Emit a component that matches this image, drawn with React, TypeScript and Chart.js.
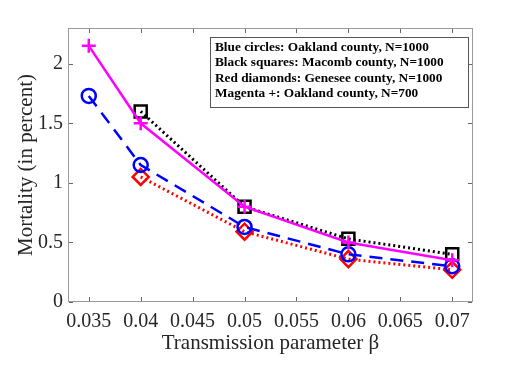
import React, { useEffect, useRef } from 'react';
import { Chart, registerables } from 'chart.js';

Chart.register(...registerables);

const betas = [0.035, 0.04, 0.05, 0.06, 0.07];
const blueOakland1000 = [1.73, 1.15, 0.63, 0.4, 0.3];
const blackMacomb1000 = [null, 1.6, 0.8, 0.53, 0.4];
const redGenesee1000 = [null, 1.05, 0.59, 0.36, 0.27];
const magentaOakland700 = [2.15, 1.5, 0.8, 0.5, 0.35];

const xTicks = [0.035, 0.04, 0.045, 0.05, 0.055, 0.06, 0.065, 0.07];
const xTickLabels = ['0.035', '0.04', '0.045', '0.05', '0.055', '0.06', '0.065', '0.07'];
const yTicks = [0, 0.5, 1, 1.5, 2];
const yTickLabels = ['0', '0.5', '1', '1.5', '2'];

const legendLines = [
  'Blue circles: Oakland county, N=1000',
  'Black squares: Macomb county, N=1000',
  'Red diamonds: Genesee county, N=1000',
  'Magenta +: Oakland county, N=700',
];

const xTitle = 'Transmission parameter β';
const yTitle = 'Mortality (in percent)';

const SERIF = '"Liberation Serif", "DejaVu Serif", serif';
const AXIS_COLOR = '#262626';

const toXY = (arr: (number | null)[]) =>
  betas
    .map((x, i) => ({ x, y: arr[i] }))
    .filter((p) => p.y !== null) as { x: number; y: number }[];

const framePlugin = {
  id: 'matlabFrame',
  afterDatasetsDraw(chart: any) {
    const { ctx, chartArea: a, scales } = chart;
    ctx.save();
    ctx.strokeStyle = '#9a9a9a';
    ctx.lineWidth = 1;
    ctx.strokeRect(a.left + 0.5, a.top + 0.5, a.right - a.left - 1, a.bottom - a.top - 1);
    const tl = 4;
    ctx.strokeStyle = '#666666';
    ctx.beginPath();
    xTicks.forEach((v) => {
      const px = Math.round(scales.x.getPixelForValue(v)) + 0.5;
      ctx.moveTo(px, a.bottom - 1);
      ctx.lineTo(px, a.bottom - 1 - tl);
      ctx.moveTo(px, a.top + 1);
      ctx.lineTo(px, a.top + 1 + tl);
    });
    yTicks.forEach((v) => {
      const py = Math.round(scales.y.getPixelForValue(v)) + 0.5;
      ctx.moveTo(a.left + 1, py);
      ctx.lineTo(a.left + 1 + tl, py);
      ctx.moveTo(a.right - 1, py);
      ctx.lineTo(a.right - 1 - tl, py);
    });
    ctx.stroke();
    ctx.restore();
  },
};

const textBoxPlugin = {
  id: 'textBoxLegend',
  afterDraw(chart: any) {
    const { ctx, chartArea: a } = chart;
    ctx.save();
    ctx.font = `bold 13.3px ${SERIF}`;
    const maxW = Math.max(...legendLines.map((l) => ctx.measureText(l).width));
    const boxW = Math.round(maxW + 29);
    const boxH = 70;
    const right = Math.round(a.right - 5);
    const top = Math.round(a.top + 9);
    const left = right - boxW;
    ctx.fillStyle = '#ffffff';
    ctx.fillRect(left, top, boxW, boxH);
    ctx.strokeStyle = '#555555';
    ctx.lineWidth = 1;
    ctx.strokeRect(left + 0.5, top + 0.5, boxW, boxH);
    ctx.fillStyle = '#000000';
    ctx.textBaseline = 'middle';
    ctx.textAlign = 'left';
    legendLines.forEach((line, i) => {
      ctx.fillText(line, left + 5, top + 10.5 + i * 15.4);
    });
    ctx.restore();
  },
};

export default function App() {
  const canvasRef = useRef<HTMLCanvasElement | null>(null);

  useEffect(() => {
    const canvas = canvasRef.current;
    if (!canvas) return;
    const chart = new Chart(canvas, {
      type: 'line',
      data: {
        datasets: [
          {
            label: legendLines[3],
            data: toXY(magentaOakland700),
            borderColor: '#ff00ff',
            backgroundColor: 'transparent',
            borderWidth: 2.5,
            pointStyle: 'cross',
            pointRadius: 7,
            pointBorderWidth: 2.5,
            pointBorderColor: '#ff00ff',
            order: 0,
          },
          {
            label: legendLines[0],
            data: toXY(blueOakland1000),
            borderColor: '#0000ff',
            backgroundColor: 'transparent',
            borderWidth: 2.5,
            borderDash: [13, 8],
            pointStyle: 'circle',
            pointRadius: 7,
            pointBorderWidth: 2.5,
            pointBorderColor: '#0000ff',
            pointBackgroundColor: 'transparent',
            order: 1,
          },
          {
            label: legendLines[2],
            data: toXY(redGenesee1000),
            borderColor: '#ff0000',
            backgroundColor: 'transparent',
            borderWidth: 3,
            borderDash: [2, 3],
            pointStyle: 'rectRot',
            pointRadius: 8,
            pointBorderWidth: 2.5,
            pointBorderColor: '#ff0000',
            pointBackgroundColor: 'transparent',
            order: 2,
          },
          {
            label: legendLines[1],
            data: toXY(blackMacomb1000),
            borderColor: '#000000',
            backgroundColor: 'transparent',
            borderWidth: 3,
            borderDash: [2, 3],
            pointStyle: 'rect',
            pointRadius: 8.5,
            pointBorderWidth: 2.5,
            pointBorderColor: '#000000',
            pointBackgroundColor: 'transparent',
            order: 3,
          },
        ],
      },
      options: {
        animation: false,
        responsive: false,
        maintainAspectRatio: false,
        layout: { padding: { top: 28, right: 53, left: 0, bottom: 0 } },
        elements: { line: { tension: 0 } },
        plugins: {
          legend: { display: false },
          tooltip: { enabled: false },
        },
        scales: {
          x: {
            type: 'linear',
            min: 0.033,
            max: 0.072,
            grid: { display: false, drawTicks: false, tickLength: 0 },
            border: { display: false },
            afterBuildTicks: (s: any) => {
              s.ticks = xTicks.map((v) => ({ value: v }));
            },
            afterFit: (s: any) => {
              s.height = 76;
            },
            ticks: {
              autoSkip: false,
              maxRotation: 0,
              padding: 8,
              color: AXIS_COLOR,
              font: { family: SERIF, size: 20 },
              callback: (v: any) => {
                const i = xTicks.findIndex((t) => Math.abs(t - Number(v)) < 1e-9);
                return i >= 0 ? xTickLabels[i] : '';
              },
            },
            title: {
              display: true,
              text: xTitle,
              color: AXIS_COLOR,
              font: { family: SERIF, size: 21 },
              padding: { top: 0, bottom: 22 },
            },
          },
          y: {
            type: 'linear',
            min: 0,
            max: 2.3,
            grid: { display: false, drawTicks: false, tickLength: 0 },
            border: { display: false },
            afterBuildTicks: (s: any) => {
              s.ticks = yTicks.map((v) => ({ value: v }));
            },
            afterFit: (s: any) => {
              s.width = 68;
            },
            ticks: {
              autoSkip: false,
              padding: 5,
              color: AXIS_COLOR,
              font: { family: SERIF, size: 20 },
              callback: (v: any) => {
                const i = yTicks.findIndex((t) => Math.abs(t - Number(v)) < 1e-9);
                return i >= 0 ? yTickLabels[i] : '';
              },
            },
            title: {
              display: true,
              text: yTitle,
              color: AXIS_COLOR,
              font: { family: SERIF, size: 21 },
              padding: { top: 14, bottom: 0 },
            },
          },
        },
      },
      plugins: [framePlugin, textBoxPlugin],
    } as any);
    return () => chart.destroy();
  }, []);

  return (
    <div style={{ position: 'fixed', left: 0, top: 0, width: 526, height: 378, background: '#fff' }}>
      <canvas ref={canvasRef} width={526} height={378} style={{ width: 526, height: 378 }} />
    </div>
  );
}
